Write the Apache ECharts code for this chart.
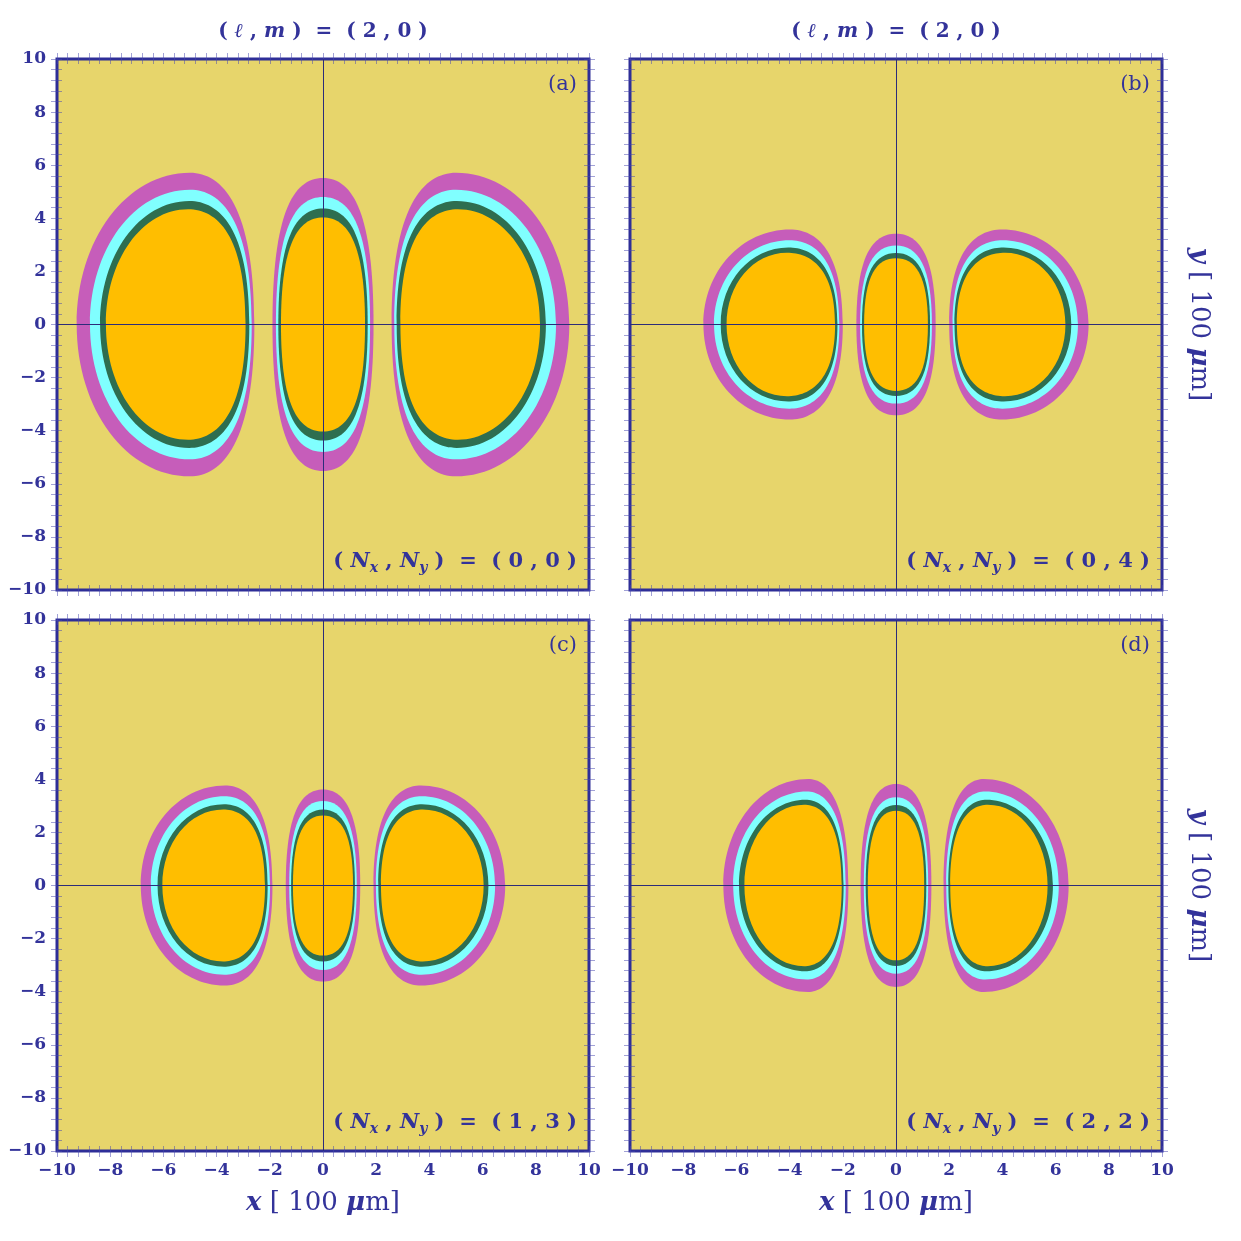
<!DOCTYPE html>
<html>
<head>
<meta charset="utf-8">
<script src="https://cdn.jsdelivr.net/npm/echarts@6/dist/echarts.min.js"></script>
<style>
  html, body { margin: 0; padding: 0; background: #fff; }
  #chart { width: 1241px; height: 1241px; }
</style>
</head>
<body>
<div id="chart"></div>
<script>
// contour levels, outermost first
const levelColors = ['#c65dba', '#80ffff', '#2e6e50', '#ffbe00'];

// side lobe (x > 0, mirrored to x < 0), one row per panel, one value per level
const sideInner = [
  [2.58, 2.68, 2.77, 2.91],
  [2.00, 2.13, 2.20, 2.29],
  [1.90, 1.99, 2.08, 2.18],
  [1.79, 1.89, 1.97, 2.04]
];
const sideOuter = [
  [9.26, 8.76, 8.38, 8.16],
  [7.24, 6.84, 6.59, 6.37],
  [6.85, 6.47, 6.22, 6.04],
  [6.49, 6.12, 5.90, 5.70]
];
const sideTop = [
  [5.72, 5.08, 4.65, 4.34],
  [3.58, 3.17, 2.90, 2.70],
  [3.77, 3.36, 3.06, 2.86],
  [4.01, 3.54, 3.23, 3.04]
];
const sidePeak = [
  [5.00, 5.00, 5.03, 5.07],
  [3.98, 4.00, 4.05, 4.10],
  [3.68, 3.70, 3.72, 3.75],
  [3.30, 3.35, 3.40, 3.45]
];
// central lobe
const centerHalfWidth = [
  [1.90, 1.77, 1.68, 1.58],
  [1.49, 1.35, 1.28, 1.20],
  [1.40, 1.27, 1.20, 1.13],
  [1.33, 1.21, 1.14, 1.06]
];
const centerTop = [
  [5.52, 4.80, 4.37, 4.03],
  [3.42, 2.98, 2.69, 2.50],
  [3.62, 3.18, 2.86, 2.64],
  [3.82, 3.32, 3.03, 2.82]
];

const panelTags = ['(a)', '(b)', '(c)', '(d)'];
const nxny = [['0', '0'], ['0', '4'], ['1', '3'], ['2', '2']];
const lm = ['2', '0'];
const axisMin = -10, axisMax = 10, majorStep = 2;

const blue = '#33339a';
const serif = 'DejaVu Serif, Liberation Serif, serif';
const gridLeft = [57, 630, 57, 630];
const gridTop = [59, 59, 620, 620];
const gridW = 532, gridH = 531;

// bezier handle factors for the lobe shapes
const KI = 0.78, KJ = 0.5, KO = 0.56;
const KV = 0.75, KH = 0.6;

function fmtTick(v) {
  return String(v).replace('-', '\u2212');
}

function renderLobe(params, api) {
  const kind = api.value(1);
  const a = api.value(2), b = api.value(3), c = api.value(4), d = api.value(5);
  const P = (x, y) => { const p = api.coord([x, y]); return p[0].toFixed(2) + ' ' + p[1].toFixed(2); };
  let path = '';
  if (kind === 0) {
    const xi = a, xo = b, yt = c, xp = d;
    [1, -1].forEach(s => {
      path += 'M' + P(s * xi, 0) +
        'C' + P(s * xi, KI * yt) + ' ' + P(s * (xp - KJ * (xp - xi)), yt) + ' ' + P(s * xp, yt) +
        'C' + P(s * (xp + KO * (xo - xp)), yt) + ' ' + P(s * xo, KO * yt) + ' ' + P(s * xo, 0) +
        'C' + P(s * xo, -KO * yt) + ' ' + P(s * (xp + KO * (xo - xp)), -yt) + ' ' + P(s * xp, -yt) +
        'C' + P(s * (xp - KJ * (xp - xi)), -yt) + ' ' + P(s * xi, -KI * yt) + ' ' + P(s * xi, 0) + 'Z';
    });
  } else {
    const w = a, yt = b;
    path = 'M' + P(w, 0) +
      'C' + P(w, KV * yt) + ' ' + P(KH * w, yt) + ' ' + P(0, yt) +
      'C' + P(-KH * w, yt) + ' ' + P(-w, KV * yt) + ' ' + P(-w, 0) +
      'C' + P(-w, -KV * yt) + ' ' + P(-KH * w, -yt) + ' ' + P(0, -yt) +
      'C' + P(KH * w, -yt) + ' ' + P(w, -KV * yt) + ' ' + P(w, 0) + 'Z';
  }
  return {
    type: 'path',
    shape: { pathData: path },
    style: { fill: levelColors[api.value(0)], stroke: null }
  };
}

const chart = echarts.init(document.getElementById('chart'), null, { renderer: 'canvas' });

const grid = [], xAxis = [], yAxis = [], series = [], graphic = [];
const tickStyle = { color: 'rgba(70,70,175,0.5)', width: 1 };

for (let i = 0; i < 4; i++) {
  grid.push({
    left: gridLeft[i], top: gridTop[i], width: gridW, height: gridH,
    show: true, backgroundColor: '#e7d56b', borderColor: '#2e2e98', borderWidth: 3
  });
  const common = {
    gridIndex: i, type: 'value', min: axisMin, max: axisMax, interval: majorStep,
    offset: -5,
    axisLine: { show: false, onZero: false },
    axisTick: { show: true, length: 11, lineStyle: tickStyle },
    minorTick: { show: true, splitNumber: 5, length: 11, lineStyle: tickStyle },
    splitLine: { show: false }
  };
  const label = (show) => ({
    show: show, margin: 16, formatter: fmtTick,
    color: blue, fontFamily: serif, fontWeight: 'bold', fontSize: 17
  });
  xAxis.push(Object.assign({}, common, { position: 'bottom', axisLabel: label(i >= 2) }));
  xAxis.push(Object.assign({}, common, { position: 'top', axisLabel: label(false) }));
  yAxis.push(Object.assign({}, common, { position: 'left', axisLabel: label(i % 2 === 0) }));
  yAxis.push(Object.assign({}, common, { position: 'right', axisLabel: label(false) }));

  const data = [];
  for (let l = 0; l < levelColors.length; l++) {
    data.push([l, 0, sideInner[i][l], sideOuter[i][l], sideTop[i][l], sidePeak[i][l]]);
    data.push([l, 1, centerHalfWidth[i][l], centerTop[i][l], 0, 0]);
  }
  series.push({
    type: 'custom',
    xAxisIndex: i * 2, yAxisIndex: i * 2,
    renderItem: renderLobe,
    data: data,
    silent: true,
    markLine: {
      silent: true, symbol: 'none', label: { show: false },
      lineStyle: { color: '#2c2c7a', width: 1, type: 'solid' },
      data: [{ xAxis: 0 }, { yAxis: 0 }]
    }
  });

  const right = gridLeft[i] + gridW - 12;
  graphic.push({
    type: 'text', x: right, y: gridTop[i] + 26,
    style: { text: panelTags[i], fill: blue, font: '21px ' + serif, align: 'right', verticalAlign: 'middle' }
  });
  graphic.push({
    type: 'text', x: right, y: gridTop[i] + 503,
    style: {
      text: '{r|( }{i|N}{s|x}{r| , }{i|N}{s|y}{r| )  =  ( ' + nxny[i][0] + ' , ' + nxny[i][1] + ' )}',
      align: 'right', verticalAlign: 'middle',
      rich: {
        r: { fill: blue, fontFamily: serif, fontWeight: 'bold', fontSize: 21 },
        i: { fill: blue, fontFamily: serif, fontWeight: 'bold', fontStyle: 'italic', fontSize: 21 },
        s: { fill: blue, fontFamily: serif, fontWeight: 'bold', fontStyle: 'italic', fontSize: 14, padding: [12, 0, 0, 0] }
      }
    }
  });
}

// column titles
[0, 1].forEach(i => {
  graphic.push({
    type: 'text', x: gridLeft[i] + gridW / 2, y: 32,
    style: {
      text: '{r|( }{i|\u2113}{r| , }{i|m}{r| )  =  ( ' + lm[0] + ' , ' + lm[1] + ' )}',
      align: 'center', verticalAlign: 'middle',
      rich: {
        r: { fill: blue, fontFamily: serif, fontWeight: 'bold', fontSize: 20 },
        i: { fill: blue, fontFamily: serif, fontWeight: 'bold', fontStyle: 'italic', fontSize: 20 }
      }
    }
  });
});
// x axis names
[2, 3].forEach(i => {
  graphic.push({
    type: 'text', x: gridLeft[i] + gridW / 2, y: 1203,
    style: {
      text: '{i|x}{r| [ 100 }{m|\u03bc}{r|m]}',
      align: 'center', verticalAlign: 'middle',
      rich: {
        i: { fill: blue, fontFamily: serif, fontWeight: 'bold', fontStyle: 'italic', fontSize: 26 },
        m: { fill: blue, fontFamily: serif, fontWeight: 'bold', fontStyle: 'italic', fontSize: 26 },
        r: { fill: blue, fontFamily: serif, fontSize: 26 }
      }
    }
  });
});
// y axis names on the right
[1, 3].forEach(i => {
  graphic.push({
    type: 'text', x: 1199, y: gridTop[i] + gridH / 2, rotation: -Math.PI / 2,
    style: {
      text: '{i|y}{r| [ 100 }{m|\u03bc}{r|m]}',
      align: 'center', verticalAlign: 'middle',
      rich: {
        i: { fill: blue, fontFamily: serif, fontWeight: 'bold', fontStyle: 'italic', fontSize: 26 },
        m: { fill: blue, fontFamily: serif, fontWeight: 'bold', fontStyle: 'italic', fontSize: 26 },
        r: { fill: blue, fontFamily: serif, fontSize: 26 }
      }
    }
  });
});

chart.setOption({
  backgroundColor: '#ffffff',
  animation: false,
  grid: grid,
  xAxis: xAxis,
  yAxis: yAxis,
  series: series,
  graphic: graphic
});
</script>
</body>
</html>
